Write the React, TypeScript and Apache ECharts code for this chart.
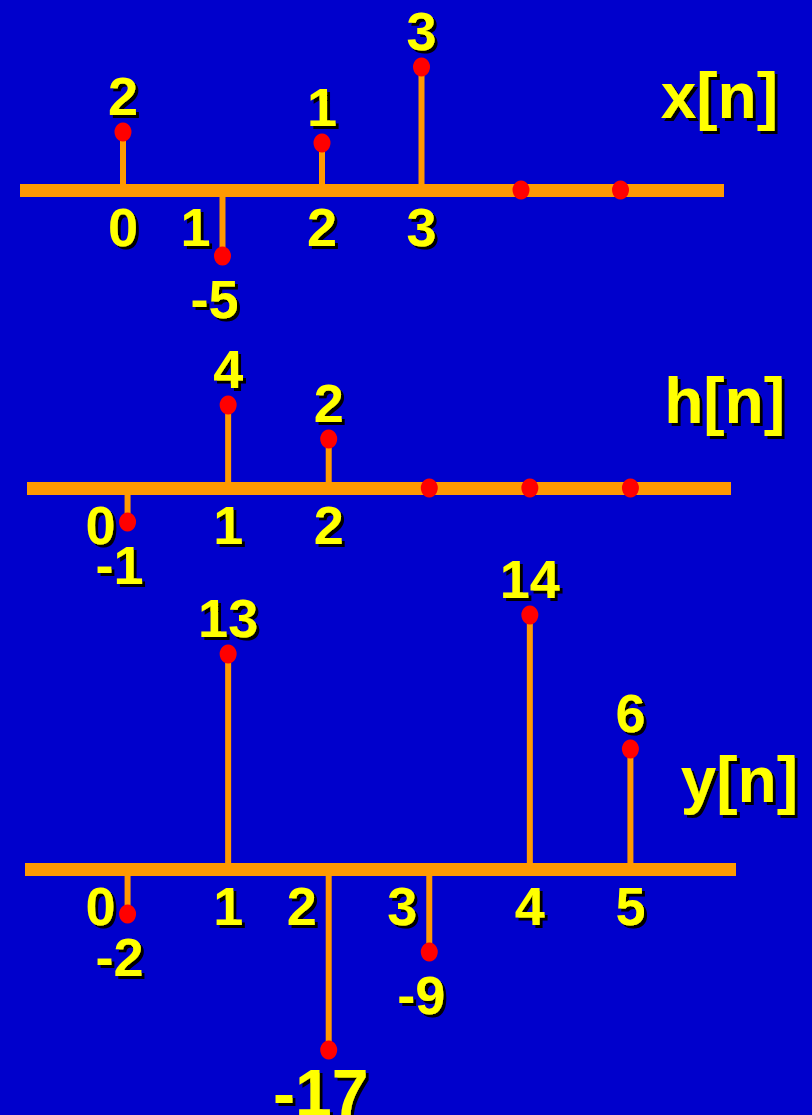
import React, { useEffect, useRef } from "react";
import * as echarts from "echarts";

// sample index n
const nIndex = [0, 1, 2, 3, 4, 5];

// x[n]
const xValues = [2, -5, 1, 3, 0, 0];
// drawn stem lengths (the slide is not drawn to scale)
const xStemLen = [58, -66, 47, 123, 0, 0];
const xTickLabels = ["0", "1", "2", "3"];

// h[n]
const hValues = [-1, 4, 2, 0, 0, 0];
const hStemLen = [-34, 83, 49, 0, 0, 0];
const hTickLabels = ["0", "1", "2"];

// y[n] = x[n] * h[n]
const yValues = [-2, 13, -17, -9, 14, 6];
const yStemLen = [-45, 215, -181, -83, 254, 120];
const yTickLabels = ["0", "1", "2", "3", "4", "5"];

const titles = ["x[n]", "h[n]", "y[n]"];

const BG = "#0000CC";
const ORANGE = "#FF9900";
const RED = "#FF0000";
const YELLOW = "#FFFF00";
const FONT = "'Liberation Sans', Arial, Helvetica, sans-serif";

const panels = [
  { values: xValues, stems: xStemLen, ticks: xTickLabels, top: 0, height: 330, yMin: -140, yMax: 190, left: 20, right: 88, xMin: -1.035, xMax: 6.04, titleX: 778, titleY: 96 },
  { values: hValues, stems: hStemLen, ticks: hTickLabels, top: 338, height: 240, yMin: -90, yMax: 150, left: 27, right: 81, xMin: -1.0, xMax: 6.0, titleX: 785, titleY: 401 },
  { values: yValues, stems: yStemLen, ticks: yTickLabels, top: 599, height: 486, yMin: -216, yMax: 270, left: 25, right: 76, xMin: -1.02, xMax: 6.05, titleX: 798, titleY: 780 },
];

const shadow = {
  textShadowColor: "#000000",
  textShadowBlur: 0.01,
  textShadowOffsetX: 3,
  textShadowOffsetY: 3,
};

function buildOption(): echarts.EChartsCoreOption {
  const grid: any[] = [];
  const xAxis: any[] = [];
  const yAxis: any[] = [];
  const series: any[] = [];
  const graphic: any[] = [];

  panels.forEach((p, i) => {
    grid.push({ left: p.left, right: p.right, top: p.top, height: p.height, containLabel: false });
    xAxis.push({
      type: "value",
      gridIndex: i,
      min: p.xMin,
      max: p.xMax,
      axisLine: { show: true, onZero: true, lineStyle: { color: ORANGE, width: 13, cap: "butt" } },
      axisTick: { show: false },
      axisLabel: { show: false },
      splitLine: { show: false },
    });
    yAxis.push({
      type: "value",
      gridIndex: i,
      min: p.yMin,
      max: p.yMax,
      show: false,
      splitLine: { show: false },
    });

    // stems
    series.push({
      type: "bar",
      xAxisIndex: i,
      yAxisIndex: i,
      barWidth: 6,
      itemStyle: { color: ORANGE, opacity: 1 },
      clip: false,
      data: nIndex.map((n) => [n, p.stems[n]]),
    });

    // dots + value labels
    series.push({
      type: "scatter",
      xAxisIndex: i,
      yAxisIndex: i,
      symbol: "circle",
      symbolSize: [17, 19],
      itemStyle: { color: RED, opacity: 1 },
      clip: false,
      z: 4,
      label: {
        show: true,
        position: "inside",
        formatter: "{b}",
        color: YELLOW,
        opacity: 1,
        fontFamily: FONT,
        fontWeight: "bold",
        fontSize: 54,
        ...shadow,
      },
      data: nIndex.map((n) => {
        const v = p.values[n];
        const neg = p.stems[n] < 0;
        return {
          name: String(v),
          value: [n, p.stems[n]],
          label: {
            show: v !== 0,
            offset: neg ? [-8, 43] : [0, -36],
            fontSize: Math.abs(v) >= 15 ? 66 : 54,
          },
        };
      }),
    });

    // index (tick) labels along the axis
    series.push({
      type: "scatter",
      xAxisIndex: i,
      yAxisIndex: i,
      symbol: "circle",
      symbolSize: 1,
      itemStyle: { color: "rgba(0,0,0,0)", opacity: 1 },
      clip: false,
      z: 3,
      label: {
        show: true,
        position: "inside",
        formatter: "{b}",
        color: YELLOW,
        opacity: 1,
        fontFamily: FONT,
        fontWeight: "bold",
        fontSize: 54,
        ...shadow,
      },
      data: p.ticks.map((t, n) => ({
        name: t,
        value: [n, 0],
        label: { offset: [p.stems[n] < 0 ? -27 : 0, 37] },
      })),
    });

    graphic.push({
      type: "text",
      right: 812 - p.titleX,
      top: p.titleY - 32,
      style: {
        text: titles[i],
        fill: YELLOW,
        font: `bold 64px ${FONT}`,
        textAlign: "left",
        textVerticalAlign: "top",
        ...shadow,
      },
    });
  });

  return {
    animation: false,
    backgroundColor: BG,
    grid,
    xAxis,
    yAxis,
    series,
    graphic,
  };
}

export default function App() {
  const ref = useRef<HTMLDivElement>(null);
  useEffect(() => {
    if (!ref.current) return;
    const chart = echarts.init(ref.current, undefined, { renderer: "svg" });
    chart.setOption(buildOption());
    return () => chart.dispose();
  }, []);
  return (
    <div
      ref={ref}
      style={{ position: "absolute", left: 0, top: 0, width: 812, height: 1115, background: BG }}
    />
  );
}
